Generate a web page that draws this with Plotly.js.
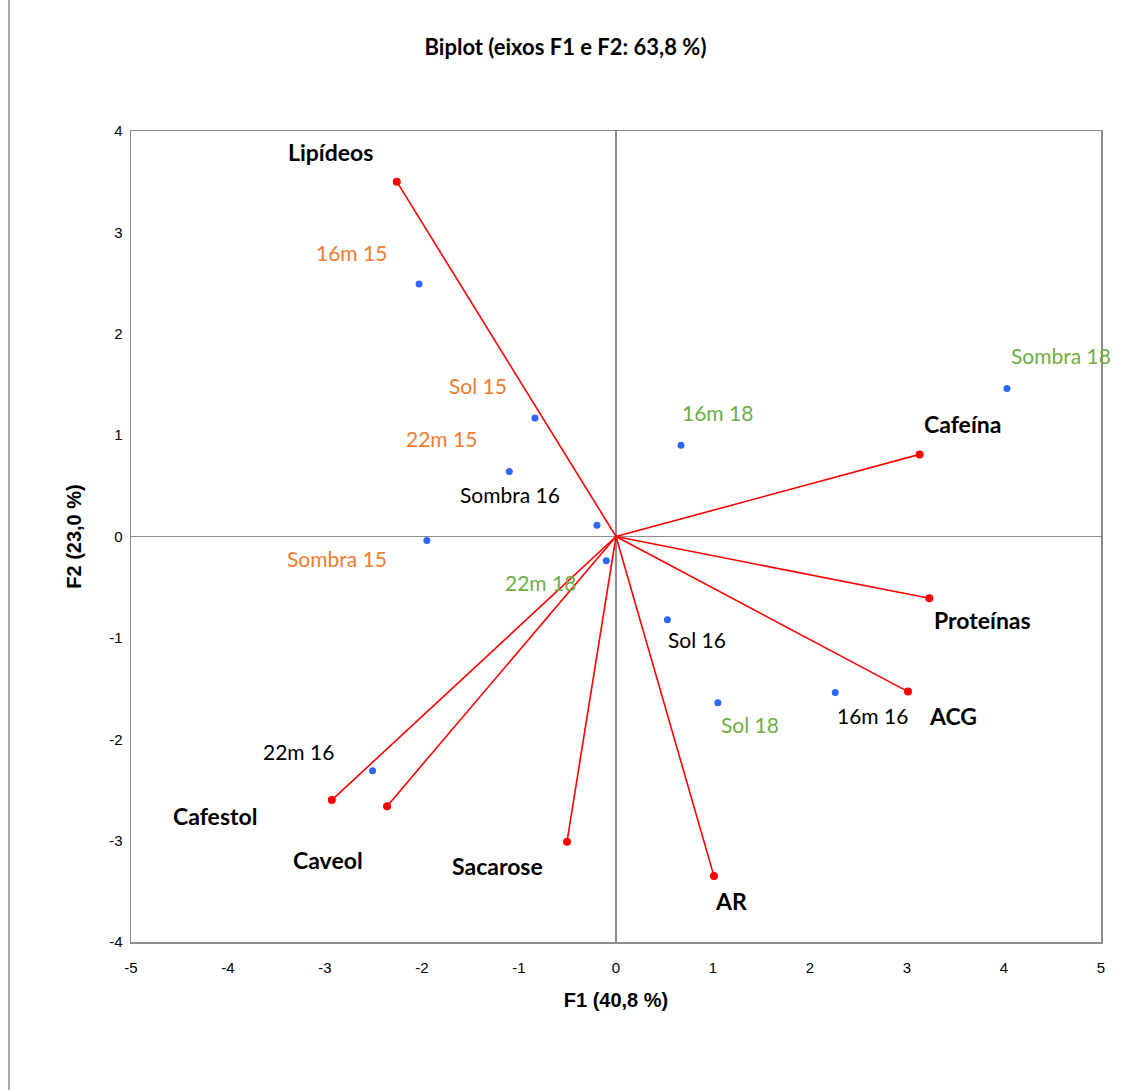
<!DOCTYPE html>
<html>
<head>
<meta charset="utf-8">
<script src="https://cdn.plot.ly/plotly-3.0.1.min.js"></script>
<style>
html,body{margin:0;padding:0;background:#fff;}
#chart{width:1131px;height:1090px;}
</style>
</head>
<body>
<div id="chart"></div>
<script>
// Observations
var obsNames = ["16m 15","Sol 15","22m 15","Sombra 16","Sombra 15","22m 18","16m 18","Sombra 18","Sol 16","Sol 18","16m 16","22m 16"];
var obsF1 = [-2.03,-0.835,-1.10,-0.196,-1.95,-0.10,0.67,4.03,0.53,1.05,2.26,-2.51];
var obsF2 = [2.49,1.17,0.64,0.11,-0.04,-0.24,0.90,1.46,-0.82,-1.64,-1.54,-2.31];
var obsGroup = ["15","15","15","16","15","18","18","18","16","18","16","16"];

// Variables
var varNames = ["Lipídeos","Cafeína","Proteínas","ACG","AR","Sacarose","Caveol","Cafestol"];
var varF1 = [-2.26,3.13,3.23,3.01,1.01,-0.505,-2.36,-2.93];
var varF2 = [3.50,0.81,-0.61,-1.53,-3.35,-3.01,-2.66,-2.60];

// Axis ticks
var xTicks = [-5,-4,-3,-2,-1,0,1,2,3,4,5];
var yTicks = [-4,-3,-2,-1,0,1,2,3,4];

// label offsets (pixels): [dx, dy-down]
var obsOffsets = [[-68,-32],[-57,-32],[-68,-33],[-87,-31],[-90,18],[-66,22],[37,-33],[54,-33],[30,20],[32,22],[37,23],[-74,-19]];
var varOffsets = [[-66,-30],[43,-30],[53,22],[45,24],[17,25],[-70,24],[-59,54],[-117,16]];
var groupColor = {"15":"#ED7D31","16":"#000000","18":"#70AD47"};

var font = "Lato, 'Open Sans', 'Noto Sans', sans-serif";
var axFont = "'Liberation Sans', Arial, sans-serif";

var lx = [], ly = [];
for (var i = 0; i < varNames.length; i++) {
  lx.push(0, varF1[i], null);
  ly.push(0, varF2[i], null);
}

var traces = [
  {x: lx, y: ly, type: "scatter", mode: "lines", line: {color: "#FF0000", width: 1.6}, hoverinfo: "skip", showlegend: false},
  {x: varF1, y: varF2, text: varNames, type: "scatter", mode: "markers", marker: {color: "#FF0000", size: 8}, showlegend: false},
  {x: obsF1, y: obsF2, text: obsNames, type: "scatter", mode: "markers", marker: {color: "#2F66F5", size: 7}, showlegend: false}
];

var annotations = [];
for (var j = 0; j < obsNames.length; j++) {
  annotations.push({x: obsF1[j], y: obsF2[j], text: obsNames[j], showarrow: false,
    xshift: obsOffsets[j][0], yshift: -obsOffsets[j][1],
    font: {family: font, size: 21, color: groupColor[obsGroup[j]]}});
}
for (var k = 0; k < varNames.length; k++) {
  annotations.push({x: varF1[k], y: varF2[k], text: "<b>" + varNames[k] + "</b>", showarrow: false,
    xshift: varOffsets[k][0], yshift: -varOffsets[k][1],
    font: {family: font, size: 23, color: "#000000"}});
}

var m = {l: 131, r: 30, t: 131, b: 148};
var plotW = 1131 - m.l - m.r, plotH = 1090 - m.t - m.b;

var layout = {
  width: 1131, height: 1090,
  margin: m,
  paper_bgcolor: "#ffffff", plot_bgcolor: "#ffffff",
  font: {family: font, color: "#000"},
  title: {text: "<b>Biplot (eixos F1 e F2: 63,8 %)</b>", font: {family: font, size: 22, color: "#000"}, x: 0.5, xanchor: "center", y: 1 - 47/1090, yanchor: "middle"},
  xaxis: {range: [-5, 5], tickvals: xTicks, ticktext: xTicks.map(String), showgrid: false,
    zeroline: true, zerolinecolor: "#8C8C8C", zerolinewidth: 1.5,
    showline: true, linecolor: "#8C8C8C", linewidth: 1.5, mirror: true, ticks: "",
    ticklabelstandoff: 11,
    tickfont: {family: axFont, size: 15, color: "#000"},
    title: {text: "<b>F1 (40,8 %)</b>", font: {family: axFont, size: 20, color: "#000"}, standoff: 18}},
  yaxis: {range: [-4, 4], tickvals: yTicks, ticktext: yTicks.map(String), showgrid: false,
    zeroline: true, zerolinecolor: "#8C8C8C", zerolinewidth: 1.5,
    showline: true, linecolor: "#8C8C8C", linewidth: 1.5, mirror: true, ticks: "",
    ticklabelstandoff: 4,
    tickfont: {family: axFont, size: 15, color: "#000"},
    title: {text: "<b>F2 (23,0 %)</b>", font: {family: axFont, size: 20, color: "#000"}, standoff: 22}},
  annotations: annotations,
  shapes: [{type: "line", xref: "paper", yref: "paper",
    x0: (9 - m.l) / plotW, x1: (9 - m.l) / plotW,
    y0: -(m.b) / plotH, y1: 1 + m.t / plotH,
    line: {color: "#8C8C8C", width: 1.5}}]
};

Plotly.newPlot("chart", traces, layout, {displayModeBar: false, staticPlot: true});
</script>
</body>
</html>
